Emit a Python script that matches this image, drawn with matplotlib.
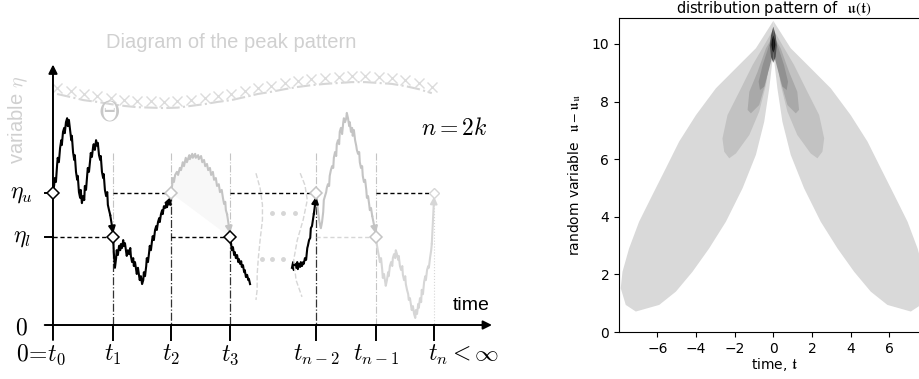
import numpy as np
import matplotlib
matplotlib.use('Agg')
import matplotlib.pyplot as plt

plt.rcParams['mathtext.fontset'] = 'cm'

#---------------------------------------
# data: left diagram (time in units of t_1, level in units of eta_l / 2)
#---------------------------------------
t_ticks = [0.0, 1.02, 2.0, 3.0, 4.46, 5.47, 6.46]
t_labels = [r'$0\!=\!t_0$', r'$t_1$', r'$t_2$', r'$t_3$', r'$t_{n-2}$', r'$t_{n-1}$', r'$t_n<\infty$']
eta_u = 3.0
eta_l = 2.0

# black walk t0 -> t1
pathA_t = [0.00, 0.02, 0.03, 0.05, 0.07, 0.08, 0.10, 0.12, 0.14, 0.15,
           0.17, 0.19, 0.20, 0.22, 0.24, 0.25, 0.27, 0.29, 0.31, 0.32,
           0.34, 0.36, 0.37, 0.39, 0.41, 0.42, 0.44, 0.46, 0.47, 0.49,
           0.51, 0.53, 0.54, 0.56, 0.58, 0.59, 0.61, 0.63, 0.64, 0.66,
           0.68, 0.69, 0.71, 0.73, 0.75, 0.76, 0.78, 0.80, 0.81, 0.83,
           0.85, 0.86, 0.88, 0.90, 0.92, 0.93, 0.95, 0.97]
pathA_eta = [3.00, 3.18, 3.34, 3.25, 3.64, 3.80, 3.70, 4.02, 4.20, 4.09,
             4.39, 4.48, 4.36, 4.61, 4.70, 4.52, 4.66, 4.43, 4.20, 4.30,
             3.93, 3.75, 3.86, 3.48, 3.30, 3.39, 3.02, 2.89, 3.07, 2.77,
             2.93, 2.84, 3.16, 3.07, 3.41, 3.57, 3.48, 3.75, 3.91, 3.82,
             4.05, 4.11, 3.98, 4.20, 4.07, 4.14, 3.86, 3.75, 3.84, 3.48,
             3.34, 3.43, 3.07, 2.93, 3.02, 2.73, 2.61, 2.50]

# black walk t1 -> t2
pathB_t = [1.02, 1.03, 1.05, 1.07, 1.08, 1.10, 1.12, 1.14, 1.15, 1.17,
           1.19, 1.20, 1.22, 1.24, 1.25, 1.27, 1.29, 1.31, 1.32, 1.34,
           1.36, 1.37, 1.39, 1.41, 1.42, 1.44, 1.46, 1.47, 1.49, 1.51,
           1.53, 1.54, 1.56, 1.58, 1.59, 1.61, 1.63, 1.64, 1.66, 1.68,
           1.69, 1.71, 1.73, 1.75, 1.76, 1.78, 1.80, 1.81, 1.83, 1.85,
           1.86, 1.88, 1.90, 1.92, 1.93]
pathB_eta = [2.00, 1.66, 1.30, 1.52, 1.70, 1.59, 1.80, 1.70, 1.84, 1.75,
             1.93, 1.80, 1.86, 1.66, 1.57, 1.70, 1.61, 1.75, 1.57, 1.43,
             1.52, 1.34, 1.43, 1.25, 1.16, 1.30, 1.11, 1.02, 1.11, 0.93,
             1.02, 1.20, 1.11, 1.34, 1.52, 1.43, 1.66, 1.80, 1.70, 1.93,
             2.02, 1.93, 2.16, 2.25, 2.16, 2.34, 2.43, 2.34, 2.52, 2.61,
             2.52, 2.70, 2.66, 2.75, 2.68]

# grey walk t2 -> t3
pathC_t = [2.00, 2.02, 2.03, 2.05, 2.07, 2.10, 2.12, 2.15, 2.17, 2.20,
           2.22, 2.25, 2.27, 2.31, 2.32, 2.36, 2.37, 2.41, 2.42, 2.46,
           2.47, 2.51, 2.53, 2.56, 2.58, 2.61, 2.63, 2.66, 2.68, 2.71,
           2.73, 2.76, 2.78, 2.81, 2.83, 2.86, 2.88, 2.90, 2.92, 2.93,
           2.95]
pathC_eta = [3.00, 3.18, 3.34, 3.25, 3.41, 3.48, 3.41, 3.57, 3.52, 3.70,
             3.61, 3.80, 3.70, 3.86, 3.77, 3.89, 3.80, 3.89, 3.80, 3.86,
             3.77, 3.84, 3.70, 3.75, 3.61, 3.66, 3.52, 3.57, 3.41, 3.48,
             3.30, 3.34, 3.16, 3.20, 3.02, 3.07, 2.89, 2.75, 2.80, 2.61,
             2.52]

# black walk after t3
pathD_t = [3.00, 3.02, 3.03, 3.05, 3.07, 3.08, 3.10, 3.12, 3.14, 3.15,
           3.17, 3.19, 3.20, 3.22, 3.24, 3.25, 3.27, 3.29, 3.31, 3.32, 3.34]
pathD_eta = [2.00, 1.84, 1.70, 1.77, 1.59, 1.66, 1.52, 1.59, 1.43, 1.50,
             1.39, 1.45, 1.32, 1.36, 1.20, 1.25, 1.09, 1.14, 1.02, 1.05, 0.93]

# black walk before t_{n-2}
pathE_t = [4.05, 4.07, 4.08, 4.10, 4.12, 4.14, 4.15, 4.17, 4.19, 4.20,
           4.22, 4.24, 4.25, 4.27, 4.29, 4.31, 4.32, 4.34, 4.36, 4.37,
           4.39, 4.41, 4.42]
pathE_eta = [1.30, 1.43, 1.25, 1.39, 1.30, 1.43, 1.27, 1.39, 1.32, 1.43,
             1.34, 1.43, 1.39, 1.52, 1.48, 1.75, 1.80, 1.93, 1.98, 2.20,
             2.25, 2.43, 2.52]

# grey walk t_{n-2} -> t_{n-1}
pathF_t = [4.46, 4.47, 4.49, 4.51, 4.53, 4.54, 4.56, 4.58, 4.59, 4.61,
           4.63, 4.64, 4.66, 4.68, 4.69, 4.71, 4.73, 4.75, 4.76, 4.78,
           4.80, 4.81, 4.83, 4.85, 4.86, 4.88, 4.90, 4.92, 4.93, 4.95,
           4.97, 4.98, 5.00, 5.02, 5.03, 5.05, 5.07, 5.08, 5.10, 5.12,
           5.14, 5.15, 5.17, 5.19, 5.20, 5.22, 5.24, 5.25, 5.27, 5.29,
           5.31, 5.32, 5.34, 5.36, 5.37, 5.39, 5.41]
pathF_eta = [3.00, 2.84, 2.61, 2.39, 2.25, 2.20, 2.34, 2.57, 2.84, 2.93,
             3.02, 3.11, 3.20, 3.16, 3.39, 3.52, 3.61, 3.57, 3.80, 3.93,
             3.84, 4.11, 4.20, 4.11, 4.39, 4.48, 4.34, 4.61, 4.70, 4.61,
             4.70, 4.82, 4.70, 4.52, 4.61, 4.39, 4.48, 4.30, 4.43, 4.20,
             4.07, 3.98, 3.89, 3.93, 3.70, 3.57, 3.61, 3.39, 3.25, 3.30,
             3.07, 2.89, 2.93, 2.73, 2.61, 2.66, 2.48]

# grey walk t_{n-1} -> t_n
pathG_t = [5.47, 5.49, 5.51, 5.53, 5.54, 5.56, 5.58, 5.59, 5.61, 5.63,
           5.64, 5.66, 5.68, 5.69, 5.71, 5.73, 5.75, 5.76, 5.78, 5.80,
           5.81, 5.83, 5.85, 5.86, 5.88, 5.90, 5.92, 5.93, 5.95, 5.97,
           5.98, 6.00, 6.02, 6.03, 6.05, 6.07, 6.08, 6.10, 6.12, 6.14,
           6.15, 6.17, 6.19, 6.20, 6.22, 6.24, 6.25, 6.27, 6.29, 6.31,
           6.32, 6.34, 6.36, 6.37, 6.39, 6.41, 6.42]
pathG_eta = [2.00, 1.82, 1.66, 1.52, 1.43, 1.52, 1.25, 1.07, 1.16, 0.98,
             0.89, 1.02, 1.20, 1.11, 1.34, 1.43, 1.34, 1.52, 1.61, 1.52,
             1.70, 1.61, 1.48, 1.57, 1.34, 1.25, 1.34, 1.14, 1.02, 1.11,
             0.93, 0.80, 0.70, 0.57, 0.61, 0.43, 0.34, 0.43, 0.25, 0.16,
             0.34, 0.25, 0.48, 0.39, 0.61, 0.52, 0.80, 0.70, 0.98, 1.11,
             1.02, 1.25, 1.34, 1.30, 1.52, 1.70, 1.84]

# boundary Theta (dash-dot wave with crosses)
wave_t = [0.07, 0.30, 0.52, 0.75, 0.98, 1.20, 1.43, 1.66, 1.88, 2.11,
          2.34, 2.57, 2.79, 3.02, 3.25, 3.47, 3.70, 3.93, 4.15, 4.38,
          4.61, 4.84, 5.06, 5.29, 5.52, 5.74, 5.97, 6.20, 6.42]
wave_eta = [5.25, 5.18, 5.11, 5.07, 5.02, 4.98, 4.95, 4.94, 4.93, 4.94,
            4.98, 5.02, 5.07, 5.11, 5.18, 5.25, 5.30, 5.36, 5.41, 5.45,
            5.48, 5.50, 5.52, 5.52, 5.50, 5.48, 5.43, 5.36, 5.27]

# the "..." gap separators
sepL_t = [3.44, 3.51, 3.55, 3.55, 3.51, 3.48, 3.46, 3.46, 3.44]
sepL_eta = [3.45, 3.11, 2.73, 2.39, 1.93, 1.52, 1.14, 0.80, 0.57]
sepR_t = [4.19, 4.27, 4.31, 4.24, 4.14, 4.08, 4.12, 4.22]
sepR_eta = [3.45, 3.18, 2.84, 2.39, 1.93, 1.48, 1.02, 0.64]
dots_t = [3.71, 3.90, 4.10, 3.54, 3.71, 3.90]
dots_eta = [2.55, 2.55, 2.55, 1.50, 1.50, 1.50]

#---------------------------------------
# data: right panel, contour regions of the left lobe (mirrored for the right)
#---------------------------------------
lev1_t = [0.0, -0.9, -1.93, -2.97, -4.0, -4.87, -5.56, -6.25, -6.94, -7.46,
          -7.8, -7.89, -7.63, -7.11, -5.9, -5.04, -4.18, -3.32, -2.45, -1.59,
          -0.9, -0.47, -0.21, -0.07, 0.0]
lev1_u = [10.8, 9.85, 9.16, 8.46, 7.53, 6.61, 5.68, 4.76, 3.83, 2.9,
          2.09, 1.52, 0.94, 0.71, 0.94, 1.4, 2.09, 2.9, 3.83, 4.99,
          6.15, 7.3, 8.46, 9.27, 9.6]
lev2_t = [0.0, -1.07, -1.76, -2.37, -2.63, -2.54, -2.28, -1.93, -1.24, -0.73, -0.38, -0.16, 0.0]
lev2_u = [10.5, 9.27, 8.34, 7.53, 6.72, 6.26, 6.03, 6.2, 6.84, 7.65, 8.58, 9.5, 9.9]
lev3_t = [0.0, -0.38, -0.81, -1.24, -1.33, -1.16, -0.73, -0.38, -0.16, 0.0]
lev3_u = [10.3, 9.85, 9.04, 8.34, 7.71, 7.59, 7.88, 8.69, 9.5, 9.9]
lev4_t = [0.0, -0.21, -0.55, -0.76, -0.69, -0.47, -0.21, 0.0]
lev4_u = [10.4, 9.97, 9.27, 8.69, 8.4, 8.52, 9.16, 9.7]
lev5_t = [0.0, -0.12, -0.18, -0.12, 0.0]
lev5_u = [10.6, 10.3, 9.95, 9.55, 9.35]
lev6_t = [0.0, -0.07, -0.1, -0.06, 0.0]
lev6_u = [10.3, 10.15, 9.97, 9.8, 9.7]
lev_colors = ['#d9d9d9', '#c2c2c2', '#a9a9a9', '#919191', '#505050', '#111111']

fig = plt.figure(figsize=(9.2, 3.79), dpi=100)

#---------------------------------------
# left: diagram of the peak pattern
#---------------------------------------
ax = fig.add_axes([0, 0, 520 / 920, 1])
ax.set_xlim(-0.898, 7.915)
ax.set_ylim(-1.227, 7.386)
ax.axis('off')

black = 'k'
grey = '#c4c4c4'
lgrey = '#d6d6d6'

# axes with arrow heads
ax.annotate('', xy=(0, 5.92), xytext=(0, -0.34),
            arrowprops=dict(arrowstyle='-|>', color=black, lw=1.4,
                            mutation_scale=13, shrinkA=0, shrinkB=0))
ax.annotate('', xy=(7.44, 0), xytext=(-0.14, 0),
            arrowprops=dict(arrowstyle='-|>', color=black, lw=1.4,
                            mutation_scale=13, shrinkA=0, shrinkB=0))
for tk in t_ticks[1:]:
    ax.plot([tk, tk], [0, -0.34], color=black, lw=1.4)
for lv in [eta_u, eta_l]:
    ax.plot([-0.14, 0], [lv, lv], color=black, lw=1.4)

# vertical dash-dot guide lines
levels_at = [eta_l, eta_u, eta_l, eta_u]
for tk, lv in zip(t_ticks[1:5], levels_at):
    ax.plot([tk, tk], [3.9, lv], color=grey, lw=0.8, ls='-.')
    ax.plot([tk, tk], [lv, 0], color='#333333', lw=0.9, ls='-.')
ax.plot([t_ticks[5]] * 2, [3.9, 0], color=grey, lw=0.8, ls='-.')
ax.plot([t_ticks[6]] * 2, [eta_u, 0], color=lgrey, lw=0.8, ls=':')

# horizontal dashed level lines
dash = (0, (3, 2))
ax.plot([0, t_ticks[1]], [eta_l] * 2, color=black, lw=1, ls=dash)
ax.plot([t_ticks[1], t_ticks[2]], [eta_u] * 2, color=black, lw=1, ls=dash)
ax.plot([t_ticks[2], t_ticks[3]], [eta_l] * 2, color=black, lw=1, ls=dash)
ax.plot([t_ticks[3], t_ticks[4]], [eta_u] * 2, color=black, lw=1, ls=dash)
ax.plot([t_ticks[4], t_ticks[5]], [eta_l] * 2, color=lgrey, lw=1, ls=dash)
ax.plot([t_ticks[5], t_ticks[6]], [eta_u] * 2, color=black, lw=1, ls=dash)

# faint shading under the grey excursion
ax.fill(pathC_t + [t_ticks[3]], pathC_eta + [eta_l], color='#f8f8f8', lw=0, zorder=1)

# walks
ax.plot(pathA_t, pathA_eta, color=black, lw=1.5)
ax.plot(pathB_t, pathB_eta, color=black, lw=1.5)
ax.plot(pathC_t, pathC_eta, color=grey, lw=1.5)
ax.plot(pathD_t, pathD_eta, color=black, lw=1.5)
ax.plot(pathE_t, pathE_eta, color=black, lw=1.5)
ax.plot(pathF_t, pathF_eta, color=grey, lw=1.5)
ax.plot(pathG_t, pathG_eta, color=lgrey, lw=1.5)

# crossing arrows
def cross_arrow(pt, pe, tk, lv, col):
    off = 0.08 if lv > pe[-1] else -0.08
    ax.annotate('', xy=(tk, lv - off), xytext=(pt[-1], pe[-1]),
                arrowprops=dict(arrowstyle='-|>', color=col, lw=1.5,
                                mutation_scale=10, shrinkA=0, shrinkB=0))

cross_arrow(pathA_t, pathA_eta, t_ticks[1], eta_l, black)
cross_arrow(pathB_t, pathB_eta, t_ticks[2], eta_u, black)
cross_arrow(pathC_t, pathC_eta, t_ticks[3], eta_l, grey)
cross_arrow(pathE_t, pathE_eta, t_ticks[4], eta_u, black)
cross_arrow(pathF_t, pathF_eta, t_ticks[5], eta_l, grey)
cross_arrow(pathG_t, pathG_eta, t_ticks[6], eta_u, lgrey)

# diamonds at the crossing times
ax.plot([t_ticks[0], t_ticks[1], t_ticks[3]], [eta_u, eta_l, eta_l], 'D',
        ms=6, mfc='white', mec=black, mew=1.1, zorder=5)
ax.plot([t_ticks[2], t_ticks[4], t_ticks[5]], [eta_u, eta_u, eta_l], 'D',
        ms=6, mfc='white', mec=grey, mew=1.1, zorder=5)
ax.plot([t_ticks[6]], [eta_u], 'D', ms=5, mfc='white', mec=lgrey, mew=1, zorder=5)

# gap separators
ax.plot(sepL_t, sepL_eta, color=lgrey, lw=1, ls='--')
ax.plot(sepR_t, sepR_eta, color=lgrey, lw=1, ls='--')
ax.plot(dots_t, dots_eta, 'o', color=lgrey, ms=2.5)

# boundary
ax.plot(wave_t, wave_eta, color=lgrey, lw=1.5, ls='-.')
ax.plot(wave_t, [w + 0.14 for w in wave_eta], 'x', color='#dcdcdc', ms=7, mew=1)

# texts
for tk, lab in zip(t_ticks[1:6], t_labels[1:6]):
    ax.text(tk, -0.68, lab, ha='center', va='center', fontsize=17)
ax.text(-0.2, -0.68, t_labels[0], ha='center', va='center', fontsize=17)
ax.text(6.36, -0.68, t_labels[6], ha='left', va='center', fontsize=17)
ax.text(-0.54, -0.05, r'$0$', ha='center', va='center', fontsize=17)
ax.text(-0.53, eta_u, r'$\eta_u$', ha='center', va='center', fontsize=17)
ax.text(-0.53, eta_l, r'$\eta_l$', ha='center', va='center', fontsize=17)
ax.text(7.08, 0.45, 'time', ha='center', va='center', fontsize=14,
        family='Liberation Sans')
ax.text(6.8, 4.48, r'$n=2k$', ha='center', va='center', fontsize=17)
ax.text(3.02, 6.43, 'Diagram of the peak pattern', ha='center', va='center',
        fontsize=14.5, color='#d0d0d0', family='Liberation Sans')
ax.text(-0.59, 4.66, r'variable $\eta$', ha='center', va='center', rotation=90,
        fontsize=14.5, color='#d0d0d0', family='Liberation Sans')
ax.text(0.95, 4.84, r'$\Theta$', ha='center', va='center', fontsize=20, color='#c8c8c8')

#---------------------------------------
# right: distribution pattern
#---------------------------------------
ax2 = fig.add_axes([619 / 920, 47 / 379, 310 / 920, 314 / 379])
levels = [(lev1_t, lev1_u), (lev2_t, lev2_u), (lev3_t, lev3_u),
          (lev4_t, lev4_u), (lev5_t, lev5_u), (lev6_t, lev6_u)]
for (lt, lu), col in zip(levels, lev_colors):
    lt = np.array(lt)
    ax2.fill(lt, lu, color=col, lw=0)
    ax2.fill(-lt, lu, color=col, lw=0)
ax2.set_xlim(-7.98, 8.05)
ax2.set_ylim(0, 10.9)
ax2.set_xticks([-6, -4, -2, 0, 2, 4, 6])
ax2.set_yticks([0, 2, 4, 6, 8, 10])
ax2.tick_params(labelsize=10)
ax2.set_title(r'distribution pattern of  $\mathfrak{u}(\mathfrak{t})$', fontsize=10.5,
              pad=2, math_fontfamily='stix')
ax2.set_xlabel(r'time, $\mathfrak{t}$', fontsize=10, labelpad=0, math_fontfamily='stix')
ax2.set_ylabel(r'random variable  $\mathfrak{u}-\mathfrak{u}_\mathfrak{u}$', fontsize=10,
               labelpad=6, math_fontfamily='stix')

fig.savefig('out.png', dpi=100)
